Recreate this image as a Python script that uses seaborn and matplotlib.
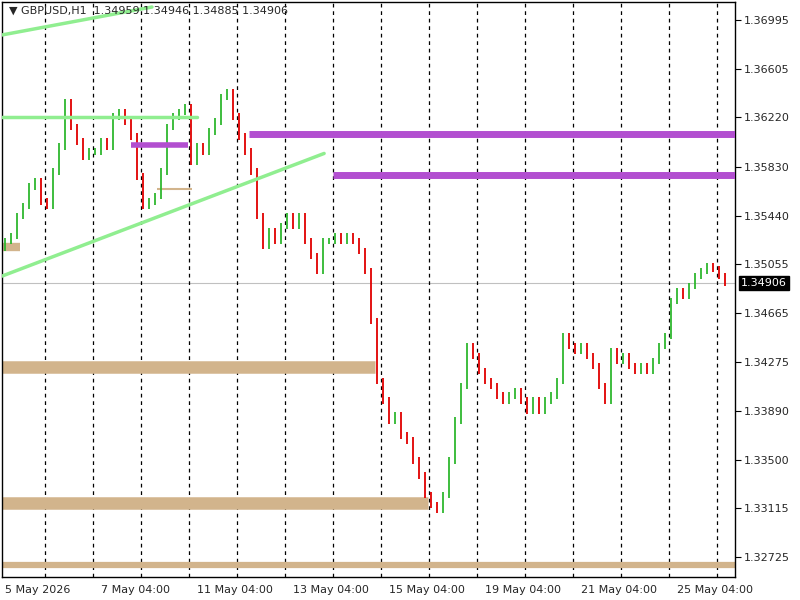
import numpy as np
import matplotlib
matplotlib.use('Agg')
import matplotlib.pyplot as plt
import seaborn as sns

sns.set_style('white')
plt.rcParams['font.family'] = ['DejaVu Sans']

# closing prices, one bar every 3 hours
closes = [1.35236, 1.35276, 1.35434, 1.35514, 1.35672, 1.35712, 1.35553, 1.35514, 1.35791, 1.35989,
          1.36345, 1.36147, 1.36028, 1.35910, 1.35949, 1.35949, 1.36028, 1.35989, 1.36227, 1.36266,
          1.36187, 1.36068, 1.35751, 1.35514, 1.35553, 1.35593, 1.35791, 1.36147, 1.36227, 1.36266,
          1.36306, 1.35870, 1.35989, 1.35949, 1.36108, 1.36187, 1.36385, 1.36425, 1.36227, 1.36068,
          1.35949, 1.35791, 1.35434, 1.35197, 1.35316, 1.35236, 1.35355, 1.35434, 1.35355, 1.35434,
          1.35236, 1.35118, 1.34999, 1.35236, 1.35236, 1.35276, 1.35236, 1.35276, 1.35236, 1.35157,
          1.34999, 1.34603, 1.34127, 1.33969, 1.33810, 1.33850, 1.33692, 1.33652, 1.33494, 1.33375,
          1.33217, 1.33137, 1.33098, 1.33217, 1.33494, 1.33810, 1.34088, 1.34405, 1.34325, 1.34207,
          1.34127, 1.34088, 1.34009, 1.33969, 1.34009, 1.34048, 1.33969, 1.33890, 1.33969, 1.33890,
          1.33969, 1.34009, 1.34127, 1.34484, 1.34405, 1.34365, 1.34405, 1.34325, 1.34246, 1.34088,
          1.33969, 1.34365, 1.34286, 1.34325, 1.34246, 1.34207, 1.34246, 1.34207, 1.34286, 1.34405,
          1.34484, 1.34761, 1.34840, 1.34800, 1.34880, 1.34959, 1.34999, 1.35038, 1.35015, 1.34959,
          1.34906]
first_open = 1.35180

yticks = [1.36995, 1.36605, 1.36220, 1.35830, 1.35440, 1.35055, 1.34665,
          1.34275, 1.33890, 1.33500, 1.33115, 1.32725]
xtick_labels = ['5 May 2026', '7 May 04:00', '11 May 04:00', '13 May 04:00',
                '15 May 04:00', '19 May 04:00', '21 May 04:00', '25 May 04:00']
header = '\u25bc GBPUSD,H1  1.34959 1.34946 1.34885 1.34906'

# drawn objects
green_h = [(-0.5, 32, 1.36227)]
green_diag = [((-0.5, 1.36876), (24.5, 1.37098)), ((-0.5, 1.34959), (53.2, 1.35934))]
purple = [(21, 30.5, 1.36005, 4), (40.7, 125, 1.36092, 5), (54.7, 125, 1.35759, 5)]
tan = [(25.3, 31.2, 1.35648, 1.5), (-0.5, 2.5, 1.35189, 6), (-0.5, 61.7, 1.34238, 9),
       (-0.5, 70.5, 1.33153, 9), (-0.5, 125, 1.32662, 4.5)]

fig = plt.figure(figsize=(8, 6), dpi=100)
ax = fig.add_axes([2/800, 23/600, 733/800, 575/600])
ax.set_xlim(-0.5, 121.7)
ax.set_ylim(1.32567, 1.37138)

# day separators
for k in range(15):
    ax.axvline(6.667 + 8*k, color='black', ls=(0, (3, 3)), lw=0.9, zorder=1)

opens = [first_open] + closes[:-1]
for i, (o, c) in enumerate(zip(opens, closes)):
    col = '#2fb82f' if c >= o else '#e00000'
    ax.vlines(i, min(o, c) - 0.00025, max(o, c) + 0.00025, color=col, lw=1.3, zorder=3)

for x0, x1, p in green_h:
    ax.plot([x0, x1], [p, p], color='#90ee90', lw=2.5, zorder=4)
for (x0, p0), (x1, p1) in green_diag:
    ax.plot([x0, x1], [p0, p1], color='#90ee90', lw=2.5, zorder=4)
for x0, x1, p, w in purple:
    ax.plot([x0, x1], [p, p], color='#b24fd0', lw=w, solid_capstyle='butt', zorder=4)
for x0, x1, p, w in tan:
    ax.plot([x0, x1], [p, p], color='#d2b48c', lw=w, solid_capstyle='butt', zorder=2)

last = closes[-1]
ax.axhline(last, color='#c0c0c0', lw=0.8, zorder=0)

ax.yaxis.tick_right()
ax.set_yticks(yticks)
ax.set_yticklabels(['%.5f' % v for v in yticks])
ax.set_xticks([0 + 16*k for k in range(8)])
ax.set_xticklabels(xtick_labels, ha='left')
ax.tick_params(axis='both', labelsize=8, length=4, direction='out', color='black', pad=2)
for s in ax.spines.values():
    s.set_color('black')
    s.set_linewidth(1)

ax.text(0.01, 0.993, header, transform=ax.transAxes, va='top', ha='left', fontsize=8, zorder=6)
ax.text(1.008, last, '%.5f' % last, transform=ax.get_yaxis_transform(), va='center', ha='left',
        fontsize=8, color='white', bbox=dict(facecolor='black', edgecolor='black', pad=1.5), zorder=10)

fig.savefig('out.png', dpi=100)
